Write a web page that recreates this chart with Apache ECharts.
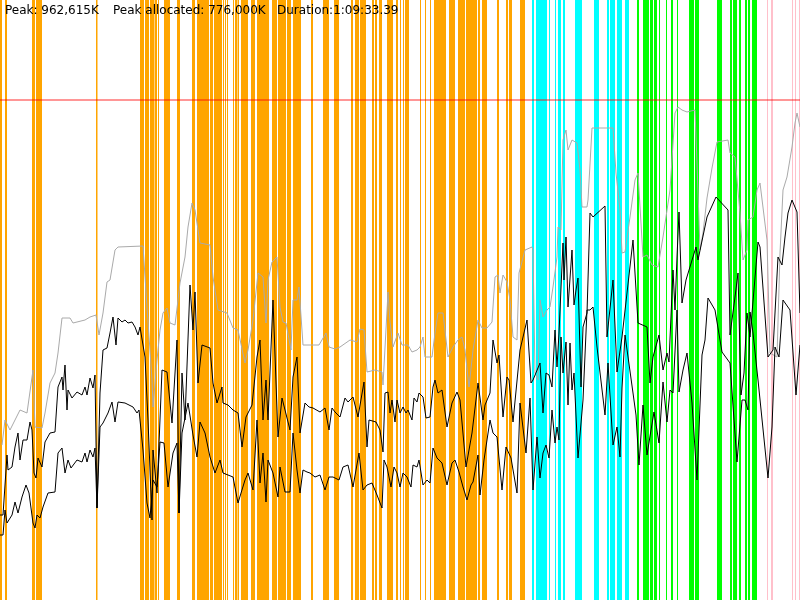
<!DOCTYPE html>
<html lang="en">
<head>
    <meta charset="UTF-8">
    <title>Memory</title>
    <script src="https://cdn.jsdelivr.net/npm/echarts@6/dist/echarts.min.js"></script>
    <style>
        html, body {margin: 0; padding: 0; background: #fff;}
    </style>
</head>
<body>
    <div class="mem" style="width: 800px; height: 600px"></div>
    <script type="text/javascript">
        // time runs 0..800, memory 0..600 (peak line sits at 500)
        let peakLevel = 500;
        let headerTexts = ['Peak: 962,615K', 'Peak allocated: 776,000K', 'Duration:1:09:33.39'];

        let orangeBands = [[0,2],[5,7],[32,35],[36,42],[96,97.5],[140,144],[145,149],[150,154],[154.5,157],[158,159],
            [164,170],[177,180],[192,195],[197,200],[200,209],[210,213],[214,222],[223,224],[225,226],[227,228],
            [233,234],[235,237],[237.5,239],[241,248],[251,255],[257,269],[272,277],[278,286],[287,291],[293,301],
            [311,313],[323,329],[334,339],[351,353],[355,359],[360,366],[372,374],[375,377],[379,382],[387,393],
            [396,398],[400,401],[403,404],[405,409],[420,421],[425,426],[430,431],[434,446],[449,455],[458,465],
            [466,477],[478,480],[482,487],[497,499],[506,508],[509,512],[520,525]];
        let cyanBands = [[532,534],[536,547],[549,550],[555,556],[558,561],[563,565],[575,582],[594,599],
            [607,609],[610,615],[617,622],[625,629]];
        let greenBands = [[637,639],[643,649],[650,653],[654,657],[659,660],[666,667],[671,673],[677,678],
            [689,694],[695,699],[717,722],[730,732],[733,737],[739,741],[745,747],[748,750],[752,757]];
        let pinkBands = [[767,768],[771,773],[792,793],[795,796],[799,800]];

        let grayLine = [[2,155],[5,180],[10,170],[15,180],[20,190],[27,187],[33,230],[35,173],[42,172],[45,187],
            [50,217],[55,227],[58,247],[62,282],[70,282],[73,277],[85,280],[90,283],[96,285],[99,265],[103,287],
            [107,318],[110,320],[115,350],[118,353],[143,354],[147,293],[152,220],[153,193],[157,240],[160,270],
            [163,287],[167,292],[170,277],[175,275],[180,317],[185,343],[188,373],[192,397],[195,390],[200,357],
            [210,355],[213,323],[218,290],[227,287],[233,272],[238,270],[245,237],[248,250],[253,280],[258,327],
            [263,323],[266,277],[268,320],[272,338],[277,343],[280,293],[283,278],[286,277],[291,250],[293,300],
            [297,300],[299,313],[303,255],[319,255],[326,267],[329,253],[335,251],[340,253],[350,260],[357,258],
            [360,271],[364,270],[367,228],[375,230],[382,228],[383,215],[388,308],[390,278],[393,253],[398,267],
            [402,255],[408,255],[412,248],[417,250],[420,253],[423,263],[425,243],[432,243],[435,267],[438,287],
            [443,287],[448,243],[453,253],[458,260],[462,263],[465,250],[469,213],[473,250],[478,280],[482,272],
            [487,272],[492,278],[495,323],[498,325],[500,307],[503,325],[507,318],[510,300],[513,263],[517,260],
            [519,327],[525,350],[527,352],[532,353],[533,350],[535,227],[538,220],[540,300],[543,283],[547,290],
            [550,293],[553,313],[557,343],[558,373],[561,370],[563,460],[566,470],[568,450],[572,460],[577,457],
            [580,430],[582,393],[587,393],[588,400],[592,472],[605,472],[607,470],[613,472],[616,427],[620,390],
            [622,347],[625,348],[630,383],[635,420],[638,427],[643,343],[647,345],[652,335],[658,333],[663,363],
            [670,410],[675,487],[678,493],[682,490],[687,488],[695,490],[697,437],[700,350],[703,367],[707,402],
            [712,432],[717,458],[728,460],[730,447],[735,443],[740,387],[743,340],[747,350],[748,380],[753,383],
            [757,410],[760,417],[767,360],[770,247],[777,243],[780,347],[783,410],[787,423],[792,453],[795,477],
            [797,487],[800,473]];

        let upperLine = [[0,85],[3,85],[7,145],[8,130],[12,133],[15,153],[18,167],[20,140],[23,160],[27,160],
            [30,178],[32,170],[34,127],[36,122],[38,142],[42,133],[45,158],[50,167],[55,168],[58,213],[62,223],
            [63,210],[65,235],[67,190],[68,210],[72,202],[77,208],[82,205],[85,213],[87,205],[90,222],[93,212],
            [95,225],[97,92],[100,207],[103,250],[107,252],[110,267],[113,283],[116,255],[118,282],[122,278],
            [125,280],[128,277],[132,278],[135,273],[138,265],[140,273],[145,243],[148,180],[152,80],[153,150],
            [157,107],[162,230],[167,228],[172,177],[177,260],[179,87],[182,227],[185,180],[190,315],[193,270],
            [195,308],[198,217],[202,255],[210,252],[213,217],[217,197],[222,213],[223,197],[228,195],[233,190],
            [238,187],[242,153],[246,183],[252,195],[257,243],[260,260],[263,180],[266,220],[268,180],[273,300],
            [278,163],[282,202],[290,170],[293,223],[297,243],[300,167],[305,197],[309,193],[313,192],[320,188],
            [325,192],[329,170],[332,192],[335,188],[340,183],[345,202],[348,198],[353,203],[358,183],[364,218],
            [367,153],[369,180],[376,178],[380,170],[383,148],[385,207],[388,208],[390,187],[392,200],[395,178],
            [397,200],[400,187],[403,193],[406,187],[408,190],[412,180],[414,202],[417,198],[419,207],[423,203],
            [426,182],[430,183],[433,213],[435,220],[438,207],[442,210],[447,173],[452,197],[457,208],[460,200],
            [466,133],[472,167],[478,217],[483,180],[485,195],[490,207],[493,260],[497,237],[499,245],[503,183],
            [507,223],[509,220],[513,178],[515,180],[520,250],[527,280],[531,217],[533,220],[540,237],[543,187],
            [546,227],[549,225],[552,213],[555,270],[557,233],[559,267],[563,357],[564,320],[566,363],[568,293],
            [572,350],[574,295],[576,310],[578,322],[581,213],[583,273],[587,287],[588,285],[590,387],[593,383],
            [605,394],[607,263],[613,320],[617,228],[622,263],[627,307],[633,360],[638,277],[647,273],[650,217],
            [653,243],[659,265],[663,230],[667,247],[669,238],[673,330],[675,290],[677,343],[679,388],[682,297],
            [686,320],[696,353],[698,340],[707,383],[716,403],[728,390],[730,265],[735,303],[738,327],[741,205],
            [744,227],[747,287],[750,263],[758,358],[760,353],[768,243],[773,250],[778,343],[782,335],[785,363],
            [788,387],[792,400],[797,388],[800,287]];

        let lowerLine = [[0,65],[3,65],[5,90],[7,77],[12,85],[15,98],[18,87],[22,103],[26,115],[29,107],[33,77],
            [35,72],[37,85],[40,82],[43,93],[48,107],[55,108],[58,147],[62,152],[65,127],[68,140],[71,132],
            [77,140],[82,138],[85,147],[87,138],[90,150],[93,143],[95,152],[97,92],[100,173],[103,177],[108,187],
            [112,198],[115,178],[118,198],[125,197],[133,193],[137,187],[139,190],[143,150],[147,97],[150,82],
            [153,120],[157,113],[160,158],[164,157],[168,113],[173,147],[177,157],[179,87],[182,167],[188,197],
            [193,165],[197,143],[200,178],[205,167],[210,143],[215,127],[220,140],[223,127],[233,123],[238,97],
            [245,120],[248,127],[253,110],[257,180],[260,117],[263,147],[266,98],[268,140],[273,127],[278,103],
            [280,133],[285,108],[290,108],[293,167],[297,130],[300,107],[303,130],[307,128],[310,127],[315,123],
            [320,125],[325,110],[329,123],[333,123],[339,120],[343,133],[348,135],[353,113],[359,147],[363,110],
            [367,115],[372,117],[377,105],[382,92],[384,140],[387,133],[391,113],[394,133],[397,127],[400,113],
            [403,127],[407,123],[411,113],[413,135],[417,133],[419,140],[423,115],[427,120],[430,117],[433,152],
            [437,142],[442,137],[447,115],[452,137],[455,140],[459,128],[463,113],[467,100],[471,115],[473,118],
            [478,145],[480,105],[484,140],[490,180],[493,167],[497,163],[502,110],[506,153],[511,142],[513,140],
            [517,107],[520,197],[526,147],[530,202],[533,110],[537,163],[540,122],[543,147],[546,155],[549,142],
            [552,190],[555,157],[557,173],[559,160],[561,263],[563,227],[566,258],[568,195],[570,257],[572,210],
            [574,227],[578,142],[583,200],[587,290],[590,290],[593,293],[597,253],[605,185],[608,237],[613,155],
            [617,173],[620,143],[622,212],[625,265],[633,207],[636,185],[639,135],[643,195],[647,145],[651,170],
            [654,188],[659,157],[663,218],[667,178],[670,210],[673,207],[677,290],[679,208],[683,230],[687,247],
            [692,197],[697,120],[702,245],[705,260],[708,302],[715,290],[722,248],[730,237],[737,138],[742,200],
            [745,200],[748,190],[750,288],[753,267],[758,220],[768,122],[772,173],[775,253],[779,243],[783,300],
            [790,290],[796,205],[800,255]];

        let myChart = echarts.init(document.getElementsByClassName('mem')[0]);

        function bandSeries(bands, color) {
            return {
                type: 'line',
                data: [],
                silent: true,
                z: 1,
                markArea: {
                    silent: true,
                    itemStyle: {color: color, opacity: 1, borderWidth: 0},
                    data: bands.map(b => [{xAxis: b[0]}, {xAxis: b[1]}])
                }
            };
        }

        function lineSeries(data, color) {
            return {
                type: 'line',
                data: data,
                z: 3,
                showSymbol: false,
                symbol: 'none',
                lineStyle: {color: color, width: 1},
                silent: true
            };
        }

        let lefts = [5, 113, 277];
        let option = {
            animation: false,
            backgroundColor: '#fff',
            grid: {left: 0, right: 0, top: 0, bottom: 0},
            xAxis: {type: 'value', min: 0, max: 800, show: false},
            yAxis: {type: 'value', min: 0, max: 600, show: false},
            graphic: headerTexts.map((t, i) => ({
                type: 'text',
                left: lefts[i],
                top: 5,
                z: 10,
                style: {text: t, fill: '#000', font: '12px "DejaVu Sans"'}
            })),
            series: [
                bandSeries(orangeBands, '#FFA500'),
                bandSeries(cyanBands, '#00FFFF'),
                bandSeries(greenBands, '#00FF00'),
                bandSeries(pinkBands, '#FFC0CB'),
                {
                    type: 'line',
                    data: [],
                    z: 2,
                    markLine: {
                        silent: true,
                        symbol: 'none',
                        label: {show: false},
                        lineStyle: {color: 'rgba(255,0,0,0.55)', width: 1.5, type: 'solid'},
                        data: [{yAxis: peakLevel}]
                    }
                },
                lineSeries(grayLine, '#aaaaaa'),
                lineSeries(upperLine, '#000000'),
                lineSeries(lowerLine, '#000000')
            ]
        };
        myChart.setOption(option);
    </script>
</body>
</html>
